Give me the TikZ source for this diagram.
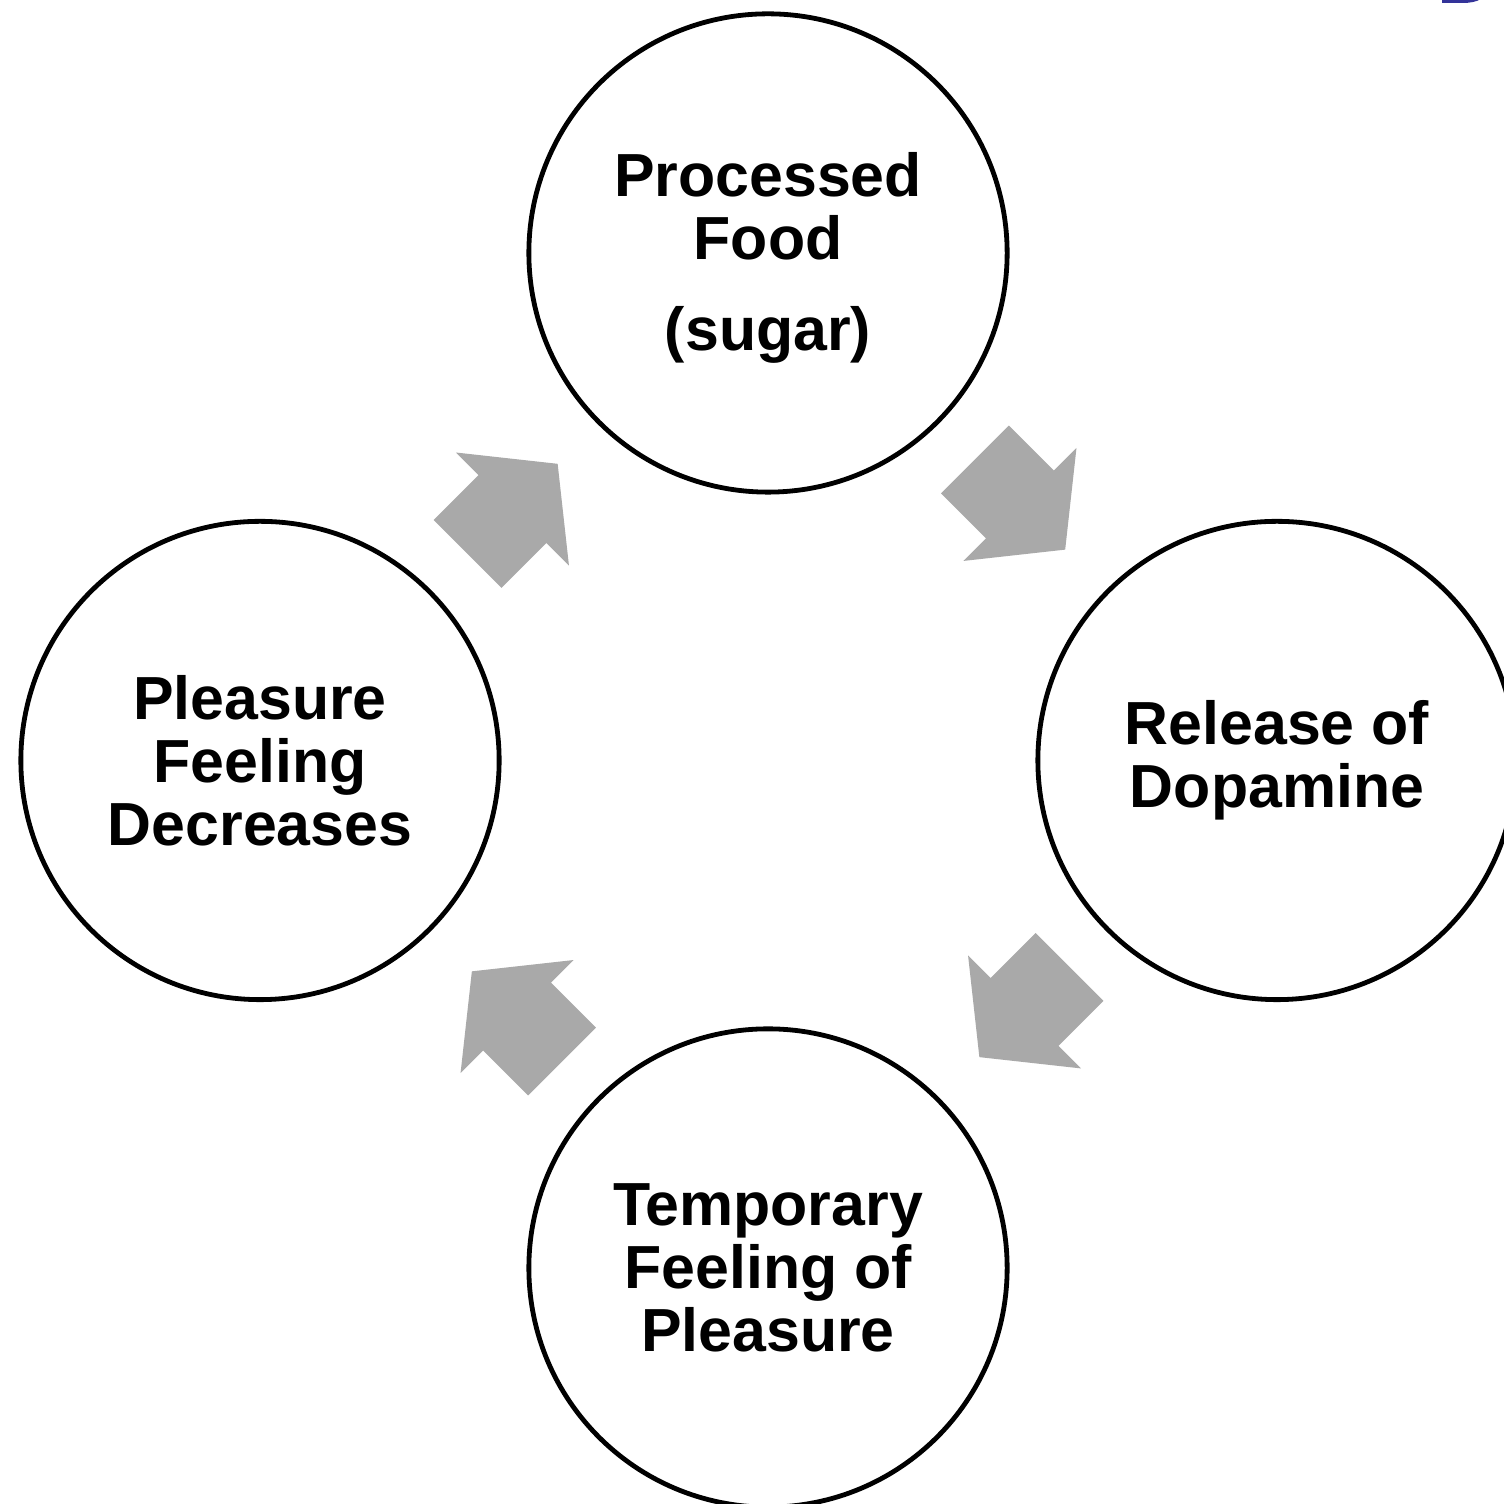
\documentclass[tikz,border=0pt]{standalone}
\usepackage{fontspec}
\setmainfont{Liberation Sans}
\begin{document}
\begin{tikzpicture}[x=0.01cm,y=0.01cm,
  stage/.style={circle, draw=black, line width=0.048cm, fill=white, minimum size=4.78cm, inner sep=0pt, align=center,
    font=\fontsize{17.3pt}{17.9pt}\selectfont\bfseries},
  cyclearrow/.style={fill=arrowgray, draw=none}]
\definecolor{arrowgray}{RGB}{169,169,169}
\definecolor{titleblue}{RGB}{51,51,153}
\useasboundingbox (0,0) rectangle (1504,1504);
\clip (0,0) rectangle (1504,1504);
% cycle arrows
\foreach \a in {0,-90,-180,-270}{
  \begin{scope}[shift={(768.5,743.5)}, rotate=\a]
    \begin{scope}[shift={(206.5,301)}, rotate=-45]
      \fill[cyclearrow] (0,48) -- (63.5,48) -- (63.5,80) -- (127.5,0) -- (63.5,-80) -- (63.5,-48) -- (0,-48) -- cycle;
    \end{scope}
  \end{scope}
}
% stages
\node[stage] (food) at (768,1251) {};
\node[font=\fontsize{17.3pt}{17.9pt}\selectfont\bfseries, align=center] (foodtext) at (768,1246) {Processed\\Food\\[0.28cm](sugar)};
\node[stage] (dopamine) at (1277,743.5) {Release of\\Dopamine};
\node[stage] (temporary) at (768,236) {Temporary\\Feeling of\\Pleasure};
\node[stage] (decrease) at (260,743.5) {Pleasure\\Feeling\\Decreases};
% cut-off title fragment
\fill[titleblue] (1442,1505) -- (1442,1501) -- (1462,1501) .. controls (1470,1501) and (1476,1502) .. (1481,1505) -- cycle;
\end{tikzpicture}
\end{document}
